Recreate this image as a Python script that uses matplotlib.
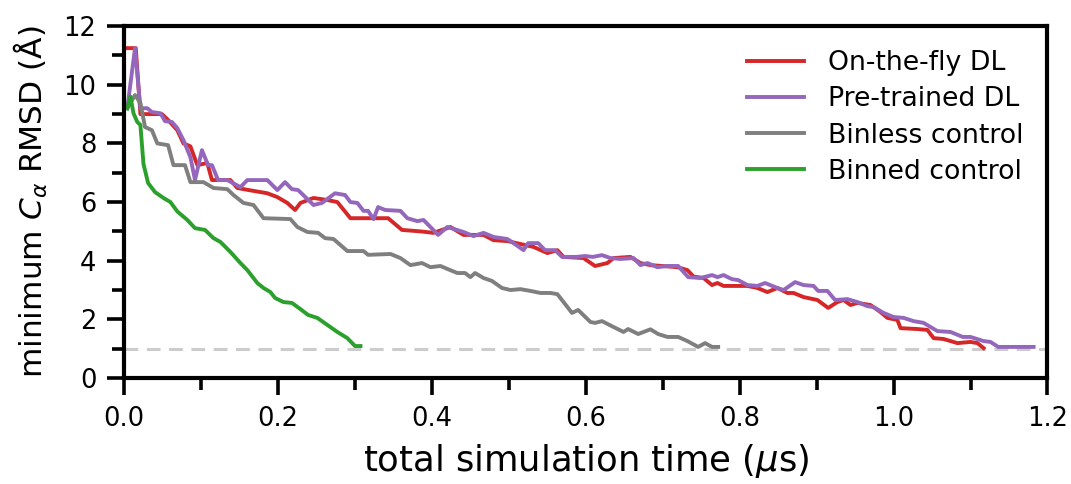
import numpy as np
import matplotlib
matplotlib.use('Agg')
import matplotlib.pyplot as plt
from matplotlib.ticker import MultipleLocator

# data (time in us, RMSD in Angstrom)
fly_t = [0.0, 0.015, 0.021, 0.049, 0.057, 0.069, 0.077, 0.086, 0.095, 0.108, 0.114, 0.138,
         0.147, 0.164, 0.186, 0.199, 0.212, 0.222, 0.229, 0.246, 0.264, 0.277, 0.294, 0.343,
         0.361, 0.385, 0.402, 0.424, 0.441, 0.467, 0.48, 0.498, 0.515, 0.532, 0.55, 0.563,
         0.571, 0.597, 0.612, 0.628, 0.636, 0.658, 0.671, 0.684, 0.719, 0.732, 0.74, 0.753,
         0.764, 0.771, 0.779, 0.81, 0.823, 0.836, 0.849, 0.862, 0.87, 0.883, 0.901, 0.915,
         0.927, 0.935, 0.944, 0.953, 0.97, 0.983, 0.992, 1.005, 1.009, 1.031, 1.044, 1.052,
         1.065, 1.083, 1.1, 1.109, 1.117]
fly_r = [11.25, 11.25, 9.0, 9.0, 8.8, 8.45, 8.0, 7.9, 7.26, 7.33, 6.75, 6.75,
         6.48, 6.4, 6.3, 6.17, 5.97, 5.73, 5.97, 6.14, 6.07, 6.0, 5.45, 5.45,
         5.05, 5.0, 4.95, 5.15, 4.88, 4.88, 4.7, 4.67, 4.57, 4.47, 4.26, 4.36,
         4.13, 4.09, 3.82, 3.92, 4.09, 4.13, 3.92, 3.85, 3.78, 3.68, 3.46, 3.41,
         3.17, 3.24, 3.14, 3.14, 3.07, 2.93, 3.07, 2.9, 2.9, 2.76, 2.66, 2.39,
         2.59, 2.66, 2.49, 2.56, 2.49, 2.25, 2.05, 1.98, 1.7, 1.67, 1.64, 1.36,
         1.33, 1.19, 1.23, 1.19, 1.02]

pre_t = [0.004, 0.014, 0.021, 0.03, 0.036, 0.047, 0.053, 0.062, 0.069, 0.077, 0.086, 0.092,
         0.101, 0.109, 0.114, 0.122, 0.134, 0.151, 0.16, 0.186, 0.199, 0.209, 0.218, 0.226,
         0.246, 0.257, 0.274, 0.287, 0.294, 0.303, 0.311, 0.317, 0.324, 0.33, 0.339, 0.359,
         0.368, 0.381, 0.389, 0.408, 0.42, 0.441, 0.454, 0.467, 0.48, 0.498, 0.506, 0.519,
         0.525, 0.538, 0.547, 0.56, 0.569, 0.588, 0.599, 0.609, 0.621, 0.632, 0.645, 0.662,
         0.671, 0.68, 0.693, 0.706, 0.72, 0.733, 0.749, 0.764, 0.771, 0.779, 0.79, 0.798,
         0.81, 0.823, 0.833, 0.849, 0.857, 0.872, 0.883, 0.896, 0.902, 0.914, 0.924, 0.94,
         0.953, 0.966, 0.974, 0.987, 1.0, 1.013, 1.026, 1.039, 1.057, 1.074, 1.09, 1.1,
         1.117, 1.126, 1.136, 1.182]
pre_r = [9.2, 11.25, 9.2, 9.2, 9.07, 9.03, 8.76, 8.73, 8.52, 8.11, 7.53, 6.75,
         7.77, 7.26, 7.26, 6.75, 6.75, 6.51, 6.75, 6.75, 6.41, 6.68, 6.44, 6.41,
         5.9, 5.97, 6.3, 6.24, 6.0, 5.97, 5.7, 5.7, 5.42, 5.83, 5.73, 5.7,
         5.45, 5.35, 5.39, 4.88, 5.15, 4.98, 4.84, 4.95, 4.81, 4.74, 4.6, 4.36,
         4.6, 4.6, 4.36, 4.36, 4.13, 4.13, 4.16, 4.13, 4.19, 4.09, 4.06, 4.09,
         3.85, 3.92, 3.78, 3.82, 3.82, 3.44, 3.41, 3.51, 3.44, 3.51, 3.37, 3.34,
         3.17, 3.14, 3.24, 3.07, 3.0, 3.27, 3.17, 3.14, 2.97, 2.97, 2.66, 2.69,
         2.59, 2.45, 2.42, 2.22, 2.08, 2.05, 1.94, 1.88, 1.6, 1.57, 1.4, 1.4,
         1.26, 1.23, 1.06, 1.06]

binless_t = [0.004, 0.014, 0.021, 0.027, 0.036, 0.043, 0.057, 0.064, 0.079, 0.086, 0.103, 0.116,
             0.134, 0.142, 0.155, 0.168, 0.181, 0.216, 0.225, 0.238, 0.252, 0.261, 0.272, 0.29,
             0.311, 0.317, 0.346, 0.359, 0.372, 0.387, 0.398, 0.411, 0.42, 0.433, 0.443, 0.45,
             0.456, 0.467, 0.478, 0.491, 0.502, 0.515, 0.528, 0.541, 0.554, 0.563, 0.582, 0.59,
             0.606, 0.612, 0.621, 0.636, 0.649, 0.655, 0.668, 0.684, 0.694, 0.706, 0.72, 0.732,
             0.746, 0.755, 0.764, 0.772]
binless_r = [9.2, 9.65, 9.38, 8.56, 8.45, 8.0, 7.94, 7.26, 7.26, 6.68, 6.68, 6.48,
             6.44, 6.24, 5.97, 5.9, 5.45, 5.42, 5.15, 4.98, 4.95, 4.77, 4.74, 4.33,
             4.33, 4.2, 4.23, 4.09, 3.85, 3.92, 3.78, 3.82, 3.72, 3.58, 3.58, 3.44,
             3.58, 3.41, 3.31, 3.07, 3.0, 3.03, 2.97, 2.9, 2.9, 2.86, 2.22, 2.32,
             1.91, 1.88, 1.94, 1.74, 1.57, 1.67, 1.5, 1.66, 1.5, 1.4, 1.4, 1.26,
             1.06, 1.19, 1.06, 1.06]

binned_t = [0.004, 0.008, 0.012, 0.017, 0.021, 0.025, 0.031, 0.04, 0.051, 0.06, 0.069, 0.082,
            0.092, 0.105, 0.116, 0.125, 0.138, 0.151, 0.16, 0.173, 0.181, 0.19, 0.196, 0.207,
            0.218, 0.229, 0.239, 0.251, 0.264, 0.277, 0.29, 0.3, 0.307]
binned_r = [9.2, 9.6, 9.03, 8.73, 8.63, 7.3, 6.65, 6.34, 6.14, 6.0, 5.68, 5.39,
            5.11, 5.05, 4.77, 4.64, 4.3, 3.92, 3.68, 3.24, 3.07, 2.93, 2.73, 2.59,
            2.56, 2.35, 2.15, 2.05, 1.81, 1.57, 1.36, 1.09, 1.09]

labels = ['On-the-fly DL', 'Pre-trained DL', 'Binless control', 'Binned control']
colors = ['#d62728', '#9467bd', '#7f7f7f', '#2ca02c']
threshold = 1.0

fig, ax = plt.subplots(figsize=(10.71, 4.84), dpi=100)

ax.axhline(threshold, color='#cccccc', ls=(0, (4.5, 2.8)), lw=2.2, zorder=1)
series = [(fly_t, fly_r), (pre_t, pre_r), (binless_t, binless_r), (binned_t, binned_r)]
for (t, r), lab, c in zip(series, labels, colors):
    ax.plot(t, r, color=c, lw=2.8, label=lab)

ax.set_xlim(0, 1.2)
ax.set_ylim(0, 12)
ax.xaxis.set_major_locator(MultipleLocator(0.2))
ax.xaxis.set_minor_locator(MultipleLocator(0.1))
ax.yaxis.set_major_locator(MultipleLocator(2))
ax.yaxis.set_minor_locator(MultipleLocator(1))
ax.tick_params(which='major', length=12, width=2.6, labelsize=18.5, pad=8)
ax.tick_params(which='minor', length=8.5, width=2.6)
for s in ax.spines.values():
    s.set_linewidth(3)

ax.set_xlabel(r'total simulation time ($\mu$s)', fontsize=25.5, labelpad=7)
ax.set_ylabel(r'minimum $C_\alpha$ RMSD (Å)', fontsize=22.5, labelpad=10)
ax.legend(loc='upper right', frameon=False, fontsize=19.3, handlelength=2.1,
          handletextpad=0.9, labelspacing=0.38)

fig.subplots_adjust(left=0.116, right=0.978, top=0.946, bottom=0.219)
fig.savefig('out.png', dpi=100)
